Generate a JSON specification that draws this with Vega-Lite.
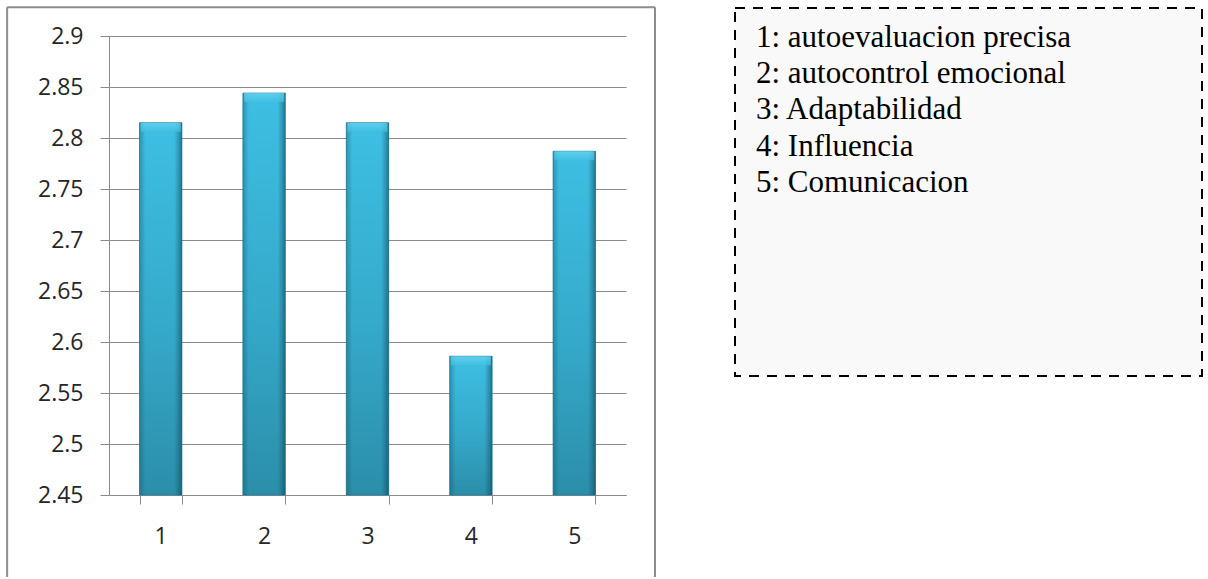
{
  "$schema": "https://vega.github.io/schema/vega-lite/v6.json",
  "background": "white",
  "padding": {"left": 6, "top": 6, "right": 6, "bottom": 0},
  "spacing": 77,
  "config": {
    "view": {"stroke": null},
    "axis": {
      "labelFont": "Open Sans",
      "labelFontSize": 23,
      "labelColor": "#262626",
      "domainColor": "#8a8a8a",
      "tickColor": "#8a8a8a",
      "gridColor": "#8a8a8a",
      "domainWidth": 1,
      "tickWidth": 1,
      "gridWidth": 1,
      "tickSize": 9,
      "title": null
    }
  },
  "hconcat": [
    {
      "width": 517,
      "height": 459,
      "view": {"stroke": null},
      "data": {
        "values": [
          {"k": "1", "v": 2.815},
          {"k": "2", "v": 2.844},
          {"k": "3", "v": 2.815},
          {"k": "4", "v": 2.586},
          {"k": "5", "v": 2.787}
        ]
      },
      "layer": [
        {
          "layer": [
            {
              "mark": {
                "type": "bar",
                "stroke": "#24819b",
                "strokeWidth": 0.8,
                "color": {
                  "gradient": "linear",
                  "x1": 0, "y1": 0, "x2": 0, "y2": 1,
                  "stops": [
                    {"offset": 0, "color": "#3dbfe3"},
                    {"offset": 0.55, "color": "#35a9ca"},
                    {"offset": 1, "color": "#2b8ea9"}
                  ]
                }
              },
              "encoding": {
                "x": {
                  "field": "k",
                  "type": "ordinal",
                  "scale": {"paddingInner": 0.59, "paddingOuter": 0.295},
                  "axis": {"labelAngle": 0, "tickBand": "extent", "labelPadding": 21, "grid": false}
                },
                "y": {
                  "field": "v",
                  "type": "quantitative",
                  "scale": {"domain": [2.45, 2.9], "zero": false, "nice": false},
                  "axis": {
                    "values": [2.45, 2.5, 2.55, 2.6, 2.65, 2.7, 2.75, 2.8, 2.85, 2.9],
                    "format": "~g",
                    "grid": true,
                    "labelPadding": 17
                  }
                },
                "y2": {"datum": 2.45}
              }
            },
            {
              "mark": {
                "type": "bar",
                "color": {
                  "gradient": "linear",
                  "x1": 0, "y1": 0, "x2": 1, "y2": 0,
                  "stops": [
                    {"offset": 0, "color": "rgba(15,70,90,0.35)"},
                    {"offset": 0.14, "color": "rgba(15,70,90,0)"},
                    {"offset": 0.82, "color": "rgba(15,70,90,0)"},
                    {"offset": 1, "color": "rgba(10,50,65,0.5)"}
                  ]
                }
              },
              "encoding": {
                "x": {"field": "k", "type": "ordinal", "scale": {"paddingInner": 0.59, "paddingOuter": 0.295}},
                "y": {"field": "v", "type": "quantitative", "scale": {"domain": [2.45, 2.9], "zero": false, "nice": false}},
                "y2": {"datum": 2.45}
              }
            },
            {
              "mark": {
                "type": "tick",
                "orient": "horizontal",
                "thickness": 9,
                "size": 40,
                "yOffset": 4.5,
                "color": {
                  "gradient": "linear",
                  "x1": 0, "y1": 0, "x2": 0, "y2": 1,
                  "stops": [
                    {"offset": 0, "color": "#6fd5f0"},
                    {"offset": 1, "color": "#40c0e3"}
                  ]
                }
              },
              "encoding": {
                "x": {"field": "k", "type": "ordinal", "scale": {"paddingInner": 0.59, "paddingOuter": 0.295}},
                "y": {"field": "v", "type": "quantitative", "scale": {"domain": [2.45, 2.9], "zero": false, "nice": false}}
              }
            }
          ]
        },
        {
          "data": {"values": [{}]},
          "layer": [
            {
              "mark": {"type": "rule", "color": "#8c8c8c", "strokeWidth": 2},
              "encoding": {
                "x": {"datum": -0.197, "type": "quantitative", "scale": {"domain": [0, 1]}, "axis": null},
                "y": {"datum": 2.92812, "type": "quantitative", "scale": {"domain": [2.45, 2.9], "zero": false, "nice": false}},
                "y2": {"datum": 2.3697}
              }
            },
            {
              "mark": {"type": "rule", "color": "#8c8c8c", "strokeWidth": 2},
              "encoding": {
                "x": {"datum": 1.0561, "type": "quantitative", "scale": {"domain": [0, 1]}, "axis": null},
                "y": {"datum": 2.92812, "type": "quantitative", "scale": {"domain": [2.45, 2.9], "zero": false, "nice": false}},
                "y2": {"datum": 2.3697}
              }
            },
            {
              "mark": {"type": "rule", "color": "#8c8c8c", "strokeWidth": 2},
              "encoding": {
                "x": {"datum": -0.197, "type": "quantitative", "scale": {"domain": [0, 1]}, "axis": null},
                "x2": {"datum": 1.0561},
                "y": {"datum": 2.92812, "type": "quantitative", "scale": {"domain": [2.45, 2.9], "zero": false, "nice": false}}
              }
            }
          ]
        }
      ],
      "resolve": {"scale": {"x": "independent"}}
    },
    {
      "width": 467,
      "height": 340,
      "view": {"stroke": null},
      "layer": [
        {
          "data": {"values": [{}]},
          "mark": {
            "type": "rect",
            "fill": "#f9f9f9",
            "stroke": "#000000",
            "strokeWidth": 2,
            "strokeDash": [10, 8]
          },
          "encoding": {
            "x": {"datum": -0.047, "type": "quantitative", "scale": {"domain": [-0.047, 1], "nice": false, "zero": false}, "axis": null},
            "x2": {"datum": 1},
            "y": {"datum": -0.0758, "type": "quantitative", "scale": {"domain": [0.6966, 10.0759], "reverse": true, "zero": false, "nice": false}, "axis": null},
            "y2": {"datum": 10.0759}
          }
        },
        {
          "data": {
            "values": [
              {"n": 1, "t": "1: autoevaluacion precisa"},
              {"n": 2, "t": "2: autocontrol emocional"},
              {"n": 3, "t": "3: Adaptabilidad"},
              {"n": 4, "t": "4: Influencia"},
              {"n": 5, "t": "5: Comunicacion"}
            ]
          },
          "mark": {
            "type": "text",
            "align": "left",
            "baseline": "alphabetic",
            "font": "Liberation Serif",
            "fontSize": 31,
            "color": "#000000"
          },
          "encoding": {
            "x": {"datum": 0, "type": "quantitative", "scale": {"domain": [-0.047, 1], "nice": false, "zero": false}, "axis": null},
            "y": {"field": "n", "type": "quantitative", "scale": {"domain": [0.6966, 10.0759], "reverse": true, "zero": false, "nice": false}, "axis": null},
            "text": {"field": "t"}
          }
        }
      ]
    }
  ]
}
